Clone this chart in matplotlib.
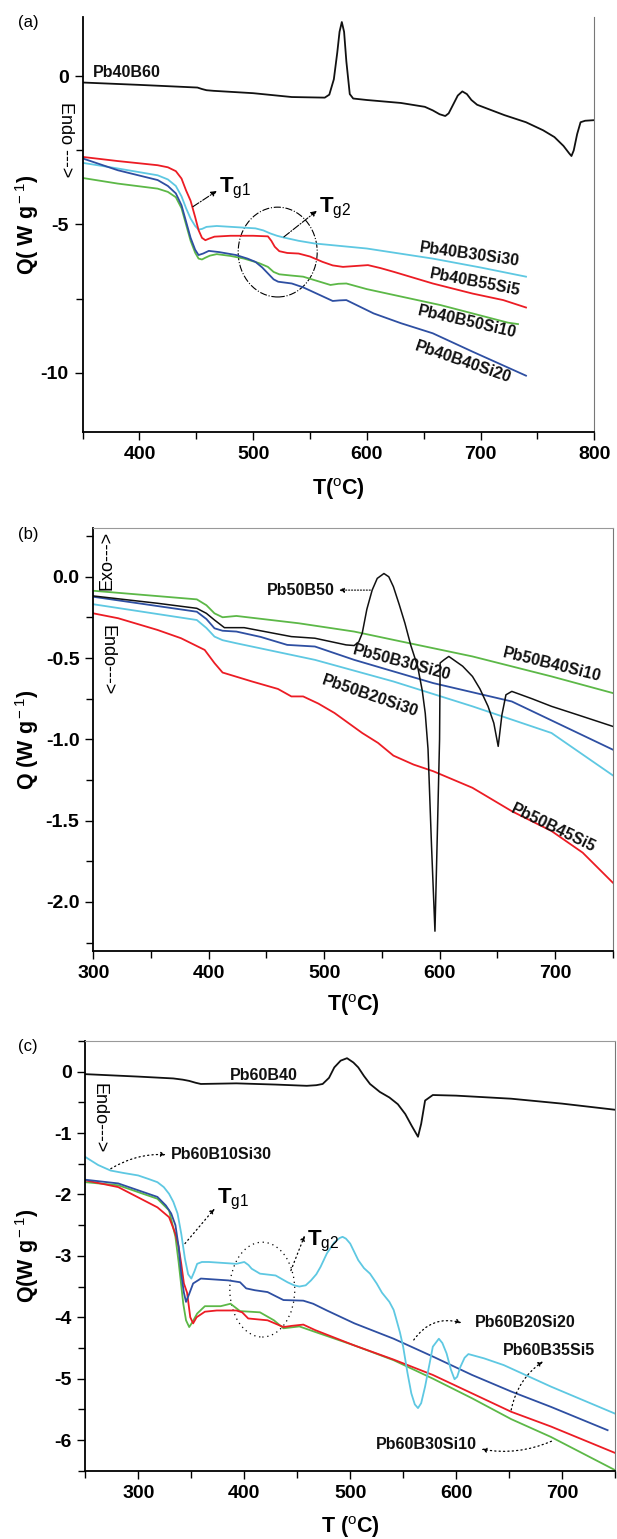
import matplotlib
matplotlib.use('Agg')
import matplotlib.pyplot as plt
from matplotlib.patches import Ellipse
from matplotlib.ticker import MultipleLocator, FormatStrFormatter

plt.rcParams['font.family'] = ['Liberation Sans', 'DejaVu Sans']
plt.rcParams['mathtext.fontset'] = 'custom'
plt.rcParams['mathtext.rm'] = 'Liberation Sans'
plt.rcParams['mathtext.bf'] = 'Liberation Sans:bold'
plt.rcParams['mathtext.it'] = 'Liberation Sans:italic'
plt.rcParams['axes.unicode_minus'] = False

RED, CYAN, BLUE, GREEN, BLACK = '#ec1c24', '#5ec8e2', '#2e4fa2', '#5cb847', '#111111'

# ---------------- panel (a) data ----------------
a_Pb40B60_T = [350, 400, 451, 455, 459, 465, 500, 534, 563, 567, 571, 574, 576, 578, 580, 582, 585, 588, 600, 630, 651, 658, 664, 669, 672, 676, 680, 684, 688, 692, 697, 710, 721, 740, 755, 765, 773, 778, 780, 782, 785, 788, 792, 800]
a_Pb40B60_Q = [-0.21, -0.29, -0.38, -0.43, -0.47, -0.49, -0.57, -0.70, -0.72, -0.62, -0.1, 0.8, 1.5, 1.83, 1.5, 0.5, -0.6, -0.75, -0.80, -0.90, -1.03, -1.15, -1.28, -1.34, -1.25, -0.95, -0.65, -0.51, -0.6, -0.8, -0.96, -1.15, -1.31, -1.55, -1.82, -2.05, -2.35, -2.6, -2.69, -2.5, -1.95, -1.55, -1.5, -1.48]
a_B55Si5_T = [350, 381, 416, 425, 432, 437, 441, 445, 449, 452, 455, 458, 461, 466, 480, 500, 513, 516, 519, 523, 530, 540, 550, 561, 570, 579, 590, 601, 612, 624, 658, 693, 720, 740]
a_B55Si5_Q = [-2.72, -2.86, -3.0, -3.07, -3.2, -3.45, -3.85, -4.2, -4.75, -5.19, -5.45, -5.53, -5.48, -5.41, -5.38, -5.38, -5.4, -5.55, -5.75, -5.9, -5.96, -5.98, -6.08, -6.26, -6.38, -6.43, -6.4, -6.37, -6.47, -6.6, -6.99, -7.33, -7.55, -7.8]
a_B30Si30_T = [350, 381, 416, 425, 432, 437, 441, 445, 449, 452, 455, 459, 468, 502, 509, 515, 521, 527, 540, 554, 600, 658, 700, 740]
a_B30Si30_Q = [-2.92, -3.11, -3.34, -3.48, -3.7, -4.05, -4.45, -4.8, -5.05, -5.17, -5.15, -5.08, -5.05, -5.13, -5.2, -5.3, -5.38, -5.44, -5.55, -5.64, -5.81, -6.15, -6.45, -6.76]
a_B40Si20_T = [350, 381, 416, 425, 432, 437, 441, 445, 449, 452, 456, 461, 470, 485, 495, 502, 508, 513, 518, 522, 534, 544, 557, 570, 576, 582, 590, 606, 630, 658, 693, 740]
a_B40Si20_Q = [-2.77, -3.17, -3.5, -3.7, -3.95, -4.35, -4.9, -5.45, -5.85, -6.03, -5.98, -5.89, -5.93, -6.03, -6.15, -6.26, -6.45, -6.65, -6.85, -6.93, -6.99, -7.12, -7.35, -7.58, -7.56, -7.55, -7.7, -8.0, -8.33, -8.67, -9.29, -10.1]
a_B50Si10_T = [350, 381, 416, 425, 432, 437, 441, 445, 449, 452, 455, 458, 462, 468, 480, 492, 505, 513, 518, 523, 533, 544, 556, 568, 575, 582, 600, 624, 665, 693, 724, 733]
a_B50Si10_Q = [-3.43, -3.62, -3.79, -3.9, -4.08, -4.45, -5.0, -5.55, -5.95, -6.15, -6.18, -6.12, -6.05, -6.0, -6.06, -6.15, -6.3, -6.43, -6.6, -6.68, -6.72, -6.76, -6.9, -7.04, -7.0, -6.99, -7.18, -7.38, -7.72, -8.0, -8.31, -8.36]

# ---------------- panel (b) data ----------------
b_Pb50B50_T = [300, 355.6, 389.7, 398, 405, 413.6, 430.7, 471.6, 492, 519, 526, 530, 533, 537, 541.6, 546, 551.8, 556, 560, 565, 570, 575, 581, 585, 587.6, 590, 593, 596, 598, 600, 600.5, 604, 608, 620, 628.5, 635, 642, 647, 650.8, 654, 657.5, 662.6, 680, 697, 720, 750]
b_Pb50B50_Q = [-0.118, -0.163, -0.194, -0.225, -0.266, -0.313, -0.313, -0.368, -0.378, -0.419, -0.423, -0.4, -0.347, -0.2, -0.082, -0.01, 0.02, 0.0, -0.061, -0.17, -0.286, -0.42, -0.552, -0.7, -0.84, -1.06, -1.65, -2.18, -1.6, -1.0, -0.53, -0.51, -0.49, -0.55, -0.613, -0.69, -0.797, -0.9, -1.043, -0.85, -0.726, -0.705, -0.75, -0.797, -0.85, -0.92]
b_B40Si10_T = [300, 389.7, 398, 405, 412, 424, 478, 526, 560, 628.5, 697, 750]
b_B40Si10_Q = [-0.086, -0.139, -0.175, -0.225, -0.249, -0.241, -0.286, -0.337, -0.388, -0.49, -0.613, -0.715]
b_B30Si20_T = [300, 389.7, 398, 405, 412, 424, 445, 468, 492, 526, 594.5, 662.6, 750]
b_B30Si20_Q = [-0.123, -0.215, -0.26, -0.317, -0.332, -0.337, -0.37, -0.419, -0.429, -0.511, -0.654, -0.767, -1.063]
b_B20Si30_T = [300, 389.7, 398, 405, 412, 424, 492, 560, 628.5, 697, 750]
b_B20Si30_Q = [-0.169, -0.266, -0.315, -0.368, -0.39, -0.409, -0.511, -0.644, -0.797, -0.961, -1.221]
b_B45Si5_T = [300, 321.5, 355.6, 376, 396.5, 405, 412, 437.5, 460, 471.6, 481.8, 495, 509, 533, 546.7, 560, 577.4, 594.5, 628.5, 662.6, 697, 724, 750]
b_B45Si5_Q = [-0.225, -0.255, -0.327, -0.378, -0.45, -0.531, -0.589, -0.644, -0.69, -0.736, -0.736, -0.78, -0.838, -0.961, -1.022, -1.1, -1.155, -1.196, -1.298, -1.442, -1.564, -1.697, -1.881]

# ---------------- panel (c) data ----------------
c_Pb60B40_T = [250, 300, 333, 342, 348, 354, 359, 392.5, 430, 459, 468, 474, 480, 485, 491, 497, 503, 507.6, 513, 518.7, 528, 537, 545, 552, 558, 562, 564, 567, 570.7, 578, 600, 652, 700, 750]
c_Pb60B40_Q = [-0.04, -0.08, -0.11, -0.13, -0.15, -0.18, -0.2, -0.19, -0.21, -0.23, -0.22, -0.2, -0.1, 0.07, 0.18, 0.22, 0.15, 0.07, -0.07, -0.2, -0.33, -0.42, -0.53, -0.69, -0.88, -1.0, -1.06, -0.85, -0.47, -0.38, -0.39, -0.44, -0.52, -0.62]
c_B10Si30_T = [250, 262, 273.7, 286, 299.8, 310, 318, 324, 329, 333, 337, 340.5, 344, 347, 350, 353, 355.5, 360, 366.6, 392.5, 400, 404, 407, 414.8, 429.6, 440.8, 447, 452, 458, 463, 468, 472, 478, 485, 490, 492.8, 496, 500, 507.6, 513, 518.7, 525, 530, 537, 541, 543, 547, 550, 554, 557.7, 561, 564, 567, 570.7, 575, 578, 583.7, 587, 591, 595, 598.5, 601, 604, 608, 611.6, 626.4, 645, 689.5, 750]
c_B10Si30_Q = [-1.39, -1.52, -1.61, -1.65, -1.69, -1.75, -1.8, -1.88, -1.99, -2.12, -2.31, -2.64, -3.05, -3.3, -3.37, -3.25, -3.13, -3.1, -3.1, -3.13, -3.1, -3.15, -3.21, -3.29, -3.32, -3.43, -3.48, -3.5, -3.48, -3.4, -3.3, -3.18, -2.96, -2.78, -2.71, -2.69, -2.72, -2.8, -3.07, -3.2, -3.29, -3.45, -3.6, -3.75, -3.88, -4.0, -4.25, -4.48, -4.9, -5.24, -5.42, -5.48, -5.4, -5.13, -4.75, -4.48, -4.35, -4.42, -4.59, -4.85, -5.01, -4.97, -4.81, -4.66, -4.6, -4.67, -4.78, -5.13, -5.57]
c_B20Si20_T = [250, 281, 318, 326, 331, 335, 338, 340.5, 343, 345, 348, 351.7, 359, 385, 396, 401.8, 410, 422, 430, 437, 455.7, 465, 478, 504, 541, 578, 615, 652, 689.5, 743]
c_B20Si20_Q = [-1.76, -1.82, -2.04, -2.18, -2.31, -2.5, -2.85, -3.3, -3.6, -3.75, -3.62, -3.45, -3.37, -3.4, -3.43, -3.53, -3.56, -3.59, -3.66, -3.72, -3.73, -3.78, -3.89, -4.1, -4.35, -4.64, -4.94, -5.21, -5.46, -5.84]
c_B35Si5_T = [250, 281, 318, 329, 335, 338, 340.5, 343, 346, 349, 351.7, 355, 362.8, 374, 392.5, 398, 403.7, 422, 437, 445, 455.7, 467, 504, 541, 578, 615, 652, 689.5, 750]
c_B35Si5_Q = [-1.77, -1.88, -2.21, -2.37, -2.64, -2.85, -3.13, -3.45, -3.6, -4.0, -4.1, -4.0, -3.91, -3.89, -3.89, -3.92, -4.02, -4.05, -4.16, -4.14, -4.12, -4.21, -4.46, -4.69, -4.94, -5.24, -5.54, -5.78, -6.21]
c_B30Si10_T = [250, 281, 318, 329, 335, 338, 342.4, 345, 348, 351, 355.5, 362.8, 377.7, 387, 396, 414.8, 428, 437, 452, 467, 504, 541, 578, 615, 652, 689.5, 750]
c_B30Si10_Q = [-1.8, -1.85, -2.07, -2.26, -2.69, -3.1, -3.78, -4.05, -4.16, -4.08, -3.94, -3.82, -3.82, -3.78, -3.9, -3.92, -4.05, -4.18, -4.15, -4.24, -4.46, -4.7, -5.0, -5.32, -5.66, -5.95, -6.49]

W, H = 617, 1539
fig = plt.figure(figsize=(W / 100, H / 100), dpi=100)


def box(l, t, r, b):
    return [l / W, 1 - b / H, (r - l) / W, (b - t) / H]


def ftext(x, y, s, **kw):
    fig.text(x / W, 1 - y / H, s, **kw)


def style(ax, xlim, ylim, xmaj, xmin, ymaj, ymin, top=True, yfmt=None):
    ax.set_xlim(*xlim)
    ax.set_ylim(*ylim)
    ax.xaxis.set_major_locator(MultipleLocator(xmaj))
    ax.xaxis.set_minor_locator(MultipleLocator(xmin))
    ax.yaxis.set_major_locator(MultipleLocator(ymaj))
    ax.yaxis.set_minor_locator(MultipleLocator(ymin))
    if yfmt:
        ax.yaxis.set_major_formatter(FormatStrFormatter(yfmt))
    ax.tick_params(which='both', direction='out', width=1.0, top=False, right=False)
    ax.tick_params(which='major', length=6, labelsize=14, pad=4)
    ax.tick_params(which='minor', length=5)
    for lab in ax.get_xticklabels() + ax.get_yticklabels():
        lab.set_fontweight('bold')
    ax.spines['left'].set_linewidth(1.3)
    ax.spines['bottom'].set_linewidth(1.3)
    ax.spines['right'].set_linewidth(0.8)
    ax.spines['right'].set_color('#777777')
    ax.spines['top'].set_linewidth(0.8)
    ax.spines['top'].set_color('#999999')
    ax.spines['top'].set_visible(top)


LW = 1.3
lbl = dict(fontsize=11.5, fontweight='bold', color='#111111')
AXL = 15.5

# ================= (a) =================
axa = fig.add_axes(box(82.6, 17, 594.2, 432))
axa.plot(a_Pb40B60_T, a_Pb40B60_Q, color=BLACK, lw=LW)
axa.plot(a_B30Si30_T, a_B30Si30_Q, color=CYAN, lw=LW)
axa.plot(a_B55Si5_T, a_B55Si5_Q, color=RED, lw=LW)
axa.plot(a_B50Si10_T, a_B50Si10_Q, color=GREEN, lw=LW)
axa.plot(a_B40Si20_T, a_B40Si20_Q, color=BLUE, lw=LW)
style(axa, (350, 800), (-12, 2), 100, 50, 5, 2.5, top=False)
axa.text(359, 0.12, 'Pb40B60', ha='left', va='center', **lbl)
axa.text(690, -6.03, 'Pb40B30Si30', ha='center', va='center', rotation=-8, **lbl)
axa.text(695, -6.94, 'Pb40B55Si5', ha='center', va='center', rotation=-11, **lbl)
axa.text(688, -8.29, 'Pb40B50Si10', ha='center', va='center', rotation=-13, **lbl)
axa.text(685, -9.64, 'Pb40B40Si20', ha='center', va='center', rotation=-19, **lbl)
axa.add_patch(Ellipse((521.6, -5.93), 69.5, 3.03, fill=False, ls='-.', lw=0.8, color='k'))
axa.annotate('', xy=(468, -3.87), xytext=(447, -4.40),
             arrowprops=dict(arrowstyle='-|>', ls='-.', lw=0.8, color='k', mutation_scale=8, shrinkA=0, shrinkB=0))
axa.text(470, -3.78, r'$\mathbf{T}_{\rm g1}$', fontsize=16, ha='left', va='center')
axa.annotate('', xy=(556, -4.54), xytext=(527, -5.42),
             arrowprops=dict(arrowstyle='-|>', ls='-.', lw=0.8, color='k', mutation_scale=8, shrinkA=0, shrinkB=0))
axa.text(558, -4.45, r'$\mathbf{T}_{\rm g2}$', fontsize=16, ha='left', va='center')
ftext(18, 23, '(a)', fontsize=12, ha='left', va='center')
ftext(65, 140, 'Endo --->', fontsize=13, rotation=270, ha='center', va='center')
ftext(27, 225, r'Q( W g$^{\rm -1}$)', fontsize=AXL, fontweight='bold', rotation=90, ha='center', va='center')
ftext(338, 489, r'T($^{\rm o}$C)', fontsize=AXL, fontweight='bold', ha='center', va='center')

# ================= (b) =================
axb = fig.add_axes(box(93.3, 528, 612.7, 950.7))
axb.plot(b_B45Si5_T, b_B45Si5_Q, color=RED, lw=LW)
axb.plot(b_B20Si30_T, b_B20Si30_Q, color=CYAN, lw=LW)
axb.plot(b_B30Si20_T, b_B30Si20_Q, color=BLUE, lw=LW)
axb.plot(b_B40Si10_T, b_B40Si10_Q, color=GREEN, lw=LW)
axb.plot(b_Pb50B50_T, b_Pb50B50_Q, color=BLACK, lw=1.1)
style(axb, (300, 750), (-2.3, 0.3), 100, 50, 0.5, 0.25, yfmt='%.1f')
axb.annotate('', xy=(513, -0.082), xytext=(540, -0.082),
             arrowprops=dict(arrowstyle='-|>', ls=':', lw=0.8, color='k', mutation_scale=7, shrinkA=0, shrinkB=0))
axb.text(480, -0.082, 'Pb50B50', ha='center', va='center', **lbl)
axb.text(567, -0.531, 'Pb50B30Si20', ha='center', va='center', rotation=-15, **lbl)
axb.text(697, -0.542, 'Pb50B40Si10', ha='center', va='center', rotation=-14, **lbl)
axb.text(540, -0.736, 'Pb50B20Si30', ha='center', va='center', rotation=-19, **lbl)
axb.text(698.5, -1.544, 'Pb50B45Si5', ha='center', va='center', rotation=-26, **lbl)
ftext(18, 535, '(b)', fontsize=12, ha='left', va='center')
ftext(107, 560, 'Exo--->', fontsize=13, rotation=90, ha='center', va='center')
ftext(107, 660, 'Endo--->', fontsize=13, rotation=270, ha='center', va='center')
ftext(27, 740, r'Q (W g$^{\rm -1}$)', fontsize=AXL, fontweight='bold', rotation=90, ha='center', va='center')
ftext(353, 1005, r'T($^{\rm o}$C)', fontsize=AXL, fontweight='bold', ha='center', va='center')

# ================= (c) =================
axc = fig.add_axes(box(85.4, 1041, 615.0, 1470.7))
axc.plot(c_Pb60B40_T, c_Pb60B40_Q, color=BLACK, lw=LW)
axc.plot(c_B30Si10_T, c_B30Si10_Q, color=GREEN, lw=LW)
axc.plot(c_B35Si5_T, c_B35Si5_Q, color=RED, lw=LW)
axc.plot(c_B20Si20_T, c_B20Si20_Q, color=BLUE, lw=LW)
axc.plot(c_B10Si30_T, c_B10Si30_Q, color=CYAN, lw=LW)
style(axc, (250, 750), (-6.5, 0.5), 100, 50, 1, 0.5)
axc.text(418, -0.07, 'Pb60B40', ha='center', va='center', **lbl)
axc.text(378, -1.35, 'Pb60B10Si30', ha='center', va='center', **lbl)
axc.text(665, -4.09, 'Pb60B20Si20', ha='center', va='center', **lbl)
axc.text(688, -4.55, 'Pb60B35Si5', ha='center', va='center', **lbl)
axc.text(572, -6.07, 'Pb60B30Si10', ha='center', va='center', **lbl)
dot = dict(arrowstyle='-|>', ls=(0, (1, 2.5)), lw=0.9, color='k', mutation_scale=7, shrinkA=0, shrinkB=0)
axc.annotate('', xy=(326, -1.35), xytext=(274, -1.58), arrowprops=dict(dot, connectionstyle='arc3,rad=-0.15'))
axc.annotate('', xy=(605, -4.09), xytext=(560, -4.37), arrowprops=dict(dot, connectionstyle='arc3,rad=-0.35'))
axc.annotate('', xy=(682, -4.72), xytext=(652, -5.51), arrowprops=dict(dot, connectionstyle='arc3,rad=-0.2'))
axc.annotate('', xy=(624, -6.15), xytext=(690, -6.02), arrowprops=dict(dot, connectionstyle='arc3,rad=-0.15'))
axc.annotate('', xy=(372, -2.23), xytext=(344, -2.80), arrowprops=dot)
axc.text(374, -2.08, r'$\mathbf{T}_{\rm g1}$', fontsize=16, ha='left', va='center')
axc.annotate('', xy=(457, -2.67), xytext=(444, -3.24), arrowprops=dot)
axc.text(459, -2.76, r'$\mathbf{T}_{\rm g2}$', fontsize=16, ha='left', va='center')
axc.add_patch(Ellipse((417, -3.55), 61.3, 1.545, fill=False, ls=(0, (1, 3)), lw=0.9, color='k'))
ftext(18, 1047, '(c)', fontsize=12, ha='left', va='center')
ftext(99, 1118, 'Endo--->', fontsize=13, rotation=270, ha='center', va='center')
ftext(27, 1256, r'Q(W g$^{\rm -1}$)', fontsize=AXL, fontweight='bold', rotation=90, ha='center', va='center')
ftext(350, 1527, r'T ($^{\rm o}$C)', fontsize=AXL, fontweight='bold', ha='center', va='center')

fig.savefig('out.png', dpi=100)
